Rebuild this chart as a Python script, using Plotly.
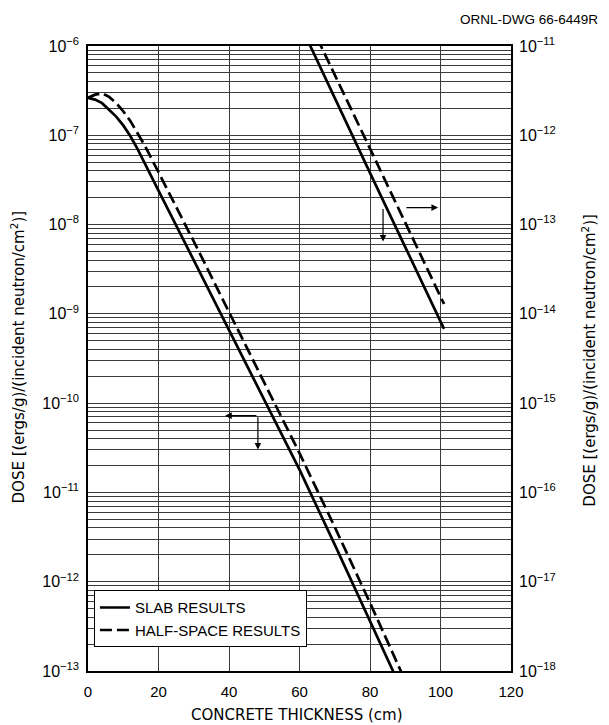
import plotly.graph_objects as go

# ---------------- data ----------------
# Left-axis curves (dose scale 1e-13 .. 1e-6)
thick_slab_left = [0, 2, 4, 6, 8, 10, 12, 14, 16, 18, 20, 25, 30, 40, 50, 60, 70, 80, 87]
dose_slab_left = [2.63e-7, 2.51e-7, 2.29e-7, 1.95e-7, 1.62e-7, 1.29e-7, 9.8e-8, 7.1e-8,
                  4.9e-8, 3.4e-8, 2.4e-8, 9.8e-9, 4.0e-9, 6.5e-10, 1.07e-10, 1.8e-11,
                  2.6e-12, 3.6e-13, 9.1e-14]

thick_half_left = [0, 2, 4, 6, 8, 10, 12, 14, 16, 18, 20, 22, 25, 30, 40, 50, 60, 70, 80, 89]
dose_half_left = [2.63e-7, 2.85e-7, 2.95e-7, 2.69e-7, 2.29e-7, 1.86e-7, 1.45e-7, 1.07e-7,
                  7.8e-8, 5.5e-8, 3.9e-8, 2.7e-8, 1.58e-8, 6.5e-9, 1.05e-9, 1.7e-10,
                  2.75e-11, 4.1e-12, 5.8e-13, 9.5e-14]

# Right-axis curves (dose scale 1e-18 .. 1e-11)
thick_slab_right = [62, 70, 80, 90, 101]
dose_slab_right = [1.23e-11, 2.6e-12, 3.8e-13, 5.6e-14, 6.8e-15]

thick_half_right = [65, 70, 80, 90, 101]
dose_half_right = [1.23e-11, 4.8e-12, 7.1e-13, 1.05e-13, 1.29e-14]

x_ticks = [0, 20, 40, 60, 80, 100, 120]
left_exponents = [-13, -12, -11, -10, -9, -8, -7, -6]
right_exponents = [-18, -17, -16, -15, -14, -13, -12, -11]

series_names = ["SLAB RESULTS", "HALF-SPACE RESULTS"]

# ---------------- styling ----------------
FONT = "Liberation Sans, Arial, sans-serif"
TITLE_FONT = "DejaVu Sans, Verdana, sans-serif"
INK = "black"
GRID = "#3a3a3a"
DASH = "12px,5px"

fig = go.Figure()

fig.add_trace(go.Scatter(x=thick_slab_left, y=dose_slab_left, mode="lines",
                         line=dict(color=INK, width=2.7), name=series_names[0],
                         yaxis="y"))
fig.add_trace(go.Scatter(x=thick_half_left, y=dose_half_left, mode="lines",
                         line=dict(color=INK, width=2.7, dash=DASH), name=series_names[1],
                         yaxis="y"))
fig.add_trace(go.Scatter(x=thick_slab_right, y=dose_slab_right, mode="lines",
                         line=dict(color=INK, width=2.7), showlegend=False,
                         yaxis="y2"))
fig.add_trace(go.Scatter(x=thick_half_right, y=dose_half_right, mode="lines",
                         line=dict(color=INK, width=2.7, dash=DASH), showlegend=False,
                         yaxis="y2"))

# grid at 1..9 x 10^n on the left log axis; labels only on decades
left_tickvals, left_ticktext = [], []
for e in left_exponents:
    for m in range(1, 10):
        if e == left_exponents[-1] and m > 1:
            break
        left_tickvals.append(m * 10.0 ** e)
        left_ticktext.append(f"10<sup>{'−' + str(-e)}</sup>" if m == 1 else "")

right_tickvals = [10.0 ** e for e in right_exponents]
right_ticktext = [f"10<sup>{'−' + str(-e)}</sup>" for e in right_exponents]

# The page body adds an 8 px offset, so the figure is 8 px smaller than the window.
fig.update_layout(
    width=601, height=717,
    margin=dict(l=80, r=98, t=38, b=54),
    paper_bgcolor="white", plot_bgcolor="white",
    font=dict(family=FONT, color=INK, size=15),
    showlegend=True,
    legend=dict(x=0.014, y=0.038, xanchor="left", yanchor="bottom",
                bgcolor="white", bordercolor=INK, borderwidth=1,
                font=dict(size=15, family=FONT), itemwidth=30, tracegroupgap=2),
    xaxis=dict(range=[0, 120], tickvals=x_ticks, ticks="", showgrid=True,
               gridcolor=GRID, gridwidth=1, zeroline=False, showline=True,
               linecolor=INK, linewidth=1.5, mirror=True, ticklabelstandoff=6,
               tickfont=dict(size=15)),
    yaxis=dict(type="log", range=[-13, -6], tickvals=left_tickvals,
               ticktext=left_ticktext, ticks="", showgrid=True, gridcolor=GRID,
               gridwidth=1, zeroline=False, showline=True, linecolor=INK,
               linewidth=1.5, mirror=True, ticklabelstandoff=4,
               tickfont=dict(size=16)),
    yaxis2=dict(type="log", range=[-18, -11], overlaying="y", side="right",
                tickvals=right_tickvals, ticktext=right_ticktext, ticks="",
                showgrid=False, zeroline=False, showline=False,
                ticklabelstandoff=7, tickfont=dict(size=16)),
)

# axis titles and drawing number
title_text = "DOSE [(ergs/g)/(incident neutron/cm<sup>2</sup>)]"
fig.add_annotation(text=title_text, xref="paper", yref="paper", x=-0.165, y=0.502,
                   xanchor="center", yanchor="middle",
                   textangle=-90, showarrow=False,
                   font=dict(size=15, family=TITLE_FONT))
fig.add_annotation(text=title_text, xref="paper", yref="paper", x=1.185, y=0.497,
                   xanchor="center", yanchor="middle",
                   textangle=-90, showarrow=False,
                   font=dict(size=15, family=TITLE_FONT))
fig.add_annotation(text="CONCRETE THICKNESS (cm)", xref="paper", yref="paper",
                   x=0.493, y=-0.07, xanchor="center", yanchor="middle",
                   showarrow=False, font=dict(size=15, family=TITLE_FONT))
fig.add_annotation(text="ORNL-DWG 66-6449R", xref="paper", yref="paper",
                   x=1.21, y=1.042, xanchor="right", yanchor="middle",
                   showarrow=False, font=dict(size=13.5))

# axis-indicator arrows: (tail_x, tail_logy, head_x, head_logy)
arrows = [
    (48.2, -10.14, 38.9, -10.14),   # points to left axis
    (48.2, -10.14, 48.2, -10.52),
    (89.9, -7.81, 99.3, -7.81),     # points to right axis
    (83.7, -7.81, 83.7, -8.19),
]
for tx, ty, hx, hy in arrows:
    fig.add_annotation(x=hx, y=hy, ax=tx, ay=ty, xref="x", yref="y",
                       axref="x", ayref="y", text="", showarrow=True,
                       arrowhead=2, arrowsize=1.1, arrowwidth=1.2,
                       arrowcolor=INK)

fig.write_html("out.html")
